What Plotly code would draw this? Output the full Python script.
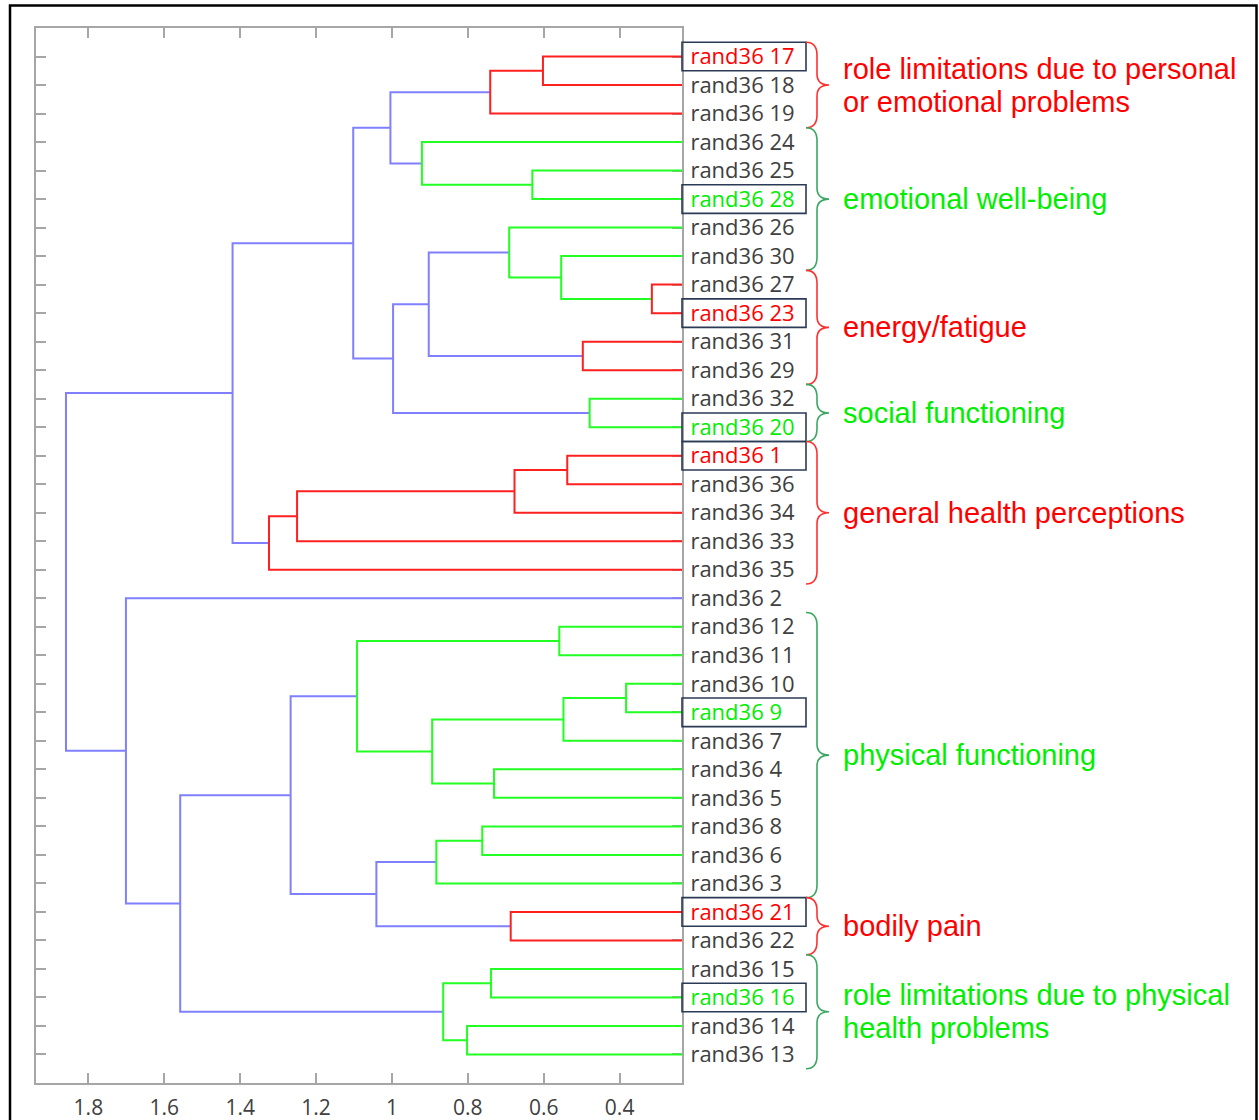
import plotly.graph_objects as go

# ---------------- data ----------------
leaf_labels = [
    "rand36 17", "rand36 18", "rand36 19", "rand36 24", "rand36 25", "rand36 28",
    "rand36 26", "rand36 30", "rand36 27", "rand36 23", "rand36 31", "rand36 29",
    "rand36 32", "rand36 20", "rand36 1", "rand36 36", "rand36 34", "rand36 33",
    "rand36 35", "rand36 2", "rand36 12", "rand36 11", "rand36 10", "rand36 9",
    "rand36 7", "rand36 4", "rand36 5", "rand36 8", "rand36 6", "rand36 3",
    "rand36 21", "rand36 22", "rand36 15", "rand36 16", "rand36 14", "rand36 13",
]
boxed_leaves = ["rand36 17", "rand36 28", "rand36 23", "rand36 20",
                "rand36 1", "rand36 9", "rand36 21", "rand36 16"]
boxed_colors = ["red", "green", "red", "green", "red", "green", "red", "green"]

# linkage: leaves are 0..35 (row order), new nodes numbered from 36
merge_a = [8, 22, 12, 10, 14, 37, 7, 20, 0, 4, 40, 30, 6, 25, 32, 44, 27, 34,
           50, 52, 41, 48, 3, 57, 51, 55, 43, 60, 46, 62, 64, 63, 65, 19, 67]
merge_b = [9, 23, 13, 11, 15, 24, 36, 21, 1, 5, 16, 31, 42, 26, 33, 2, 28, 35,
           53, 29, 49, 39, 45, 38, 58, 47, 56, 59, 17, 61, 18, 66, 54, 68, 69]
merge_height = [0.315, 0.383, 0.479, 0.497, 0.538, 0.548, 0.554, 0.559, 0.602,
                0.630, 0.677, 0.687, 0.691, 0.731, 0.739, 0.741, 0.762, 0.802,
                0.865, 0.883, 0.894, 0.903, 0.921, 0.997, 1.004, 1.041, 1.092,
                1.102, 1.250, 1.267, 1.324, 1.420, 1.558, 1.701, 1.859]
merge_color = ["red", "green", "green", "red", "red", "green", "green", "green",
               "red", "green", "red", "red", "green", "green", "green", "red",
               "green", "green", "green", "green", "green", "blue", "green",
               "blue", "blue", "blue", "green", "blue", "red", "blue", "red",
               "blue", "blue", "blue", "blue"]

group_names = [
    "role limitations due to personal\nor emotional problems",
    "emotional well-being",
    "energy/fatigue",
    "social functioning",
    "general health perceptions",
    "physical functioning",
    "bodily pain",
    "role limitations due to physical\nhealth problems",
]
group_first = [1, 4, 9, 13, 15, 21, 31, 33]
group_last = [3, 8, 12, 14, 19, 30, 32, 36]
group_color = ["red", "green", "red", "green", "red", "green", "red", "green"]

x_ticks = [1.8, 1.6, 1.4, 1.2, 1.0, 0.8, 0.6, 0.4]
x_tick_text = ["1.8", "1.6", "1.4", "1.2", "1", "0.8", "0.6", "0.4"]
x_range = [1.938, 0.2356]

# ---------------- styles ----------------
LINE_COL = {"red": "#ff2020", "green": "#22ff22", "blue": "#8080ff"}
LABEL_COL = {"red": "#ff0000", "green": "#00ee00"}
BRACE_COL = {"red": "#ff3030", "green": "#3aa862"}
GRAY_TEXT = "#404040"
AXIS_COL = "#a6a6a6"

W, H = 1259, 1120
ML, MR, MT, MB = 36, 577, 28, 37
PW, PH = W - ML - MR, H - MT - MB
N = len(leaf_labels)
Y_MAX = N + 1

def yp(v):          # leaf-unit y -> paper
    return 1 - v / Y_MAX

def xr(dpx):        # pixel offset right of the plot edge -> paper
    return 1 + dpx / PW

def dyp(dpx):
    return dpx / PH

# ---------------- dendrogram geometry ----------------
node_x = [0.0] * N
node_y = [i + 1.0 for i in range(N)]
segs = {"blue": ([], []), "green": ([], []), "red": ([], [])}
for a, b, h, c in zip(merge_a, merge_b, merge_height, merge_color):
    xs, ys = segs[c]
    xs += [node_x[a], h, h, node_x[b], None]
    ys += [node_y[a], node_y[a], node_y[b], node_y[b], None]
    node_x.append(h)
    node_y.append((node_y[a] + node_y[b]) / 2)

fig = go.Figure()
for c in ["blue", "green", "red"]:
    xs, ys = segs[c]
    fig.add_trace(go.Scatter(x=xs, y=ys, mode="lines",
                             line=dict(color=LINE_COL[c], width=2),
                             hoverinfo="skip", showlegend=False))

# ---------------- leaf tick labels ----------------
tick_text = []
for lab in leaf_labels:
    if lab in boxed_leaves:
        col = LABEL_COL[boxed_colors[boxed_leaves.index(lab)]]
        tick_text.append(f'<span style="color:{col}">{lab}</span>')
    else:
        tick_text.append(lab)

shapes = []
# boxes around representative leaves
for lab, col in zip(boxed_leaves, boxed_colors):
    r = leaf_labels.index(lab) + 1
    shapes.append(dict(type="rect", xref="paper", yref="paper",
                       x0=xr(0), x1=xr(124), y0=yp(r + 0.5), y1=yp(r - 0.5),
                       line=dict(color="#2b3a55", width=1.6),
                       fillcolor="rgba(0,0,0,0)"))

# braces and group labels
annotations = []
for name, f, l, col in zip(group_names, group_first, group_last, group_color):
    yt, yb = yp(f - 0.5), yp(l + 0.5)
    ym = (yt + yb) / 2
    xe, xs_, xt = xr(124), xr(135), xr(147)
    r1, r2 = dyp(13), dyp(11)
    path = (f"M {xe},{yt} Q {xs_},{yt} {xs_},{yt - r1} "
            f"L {xs_},{ym + r2} Q {xs_},{ym} {xt},{ym} "
            f"Q {xs_},{ym} {xs_},{ym - r2} "
            f"L {xs_},{yb + r1} Q {xs_},{yb} {xe},{yb}")
    shapes.append(dict(type="path", xref="paper", yref="paper", path=path,
                       line=dict(color=BRACE_COL[col], width=1.6)))
    lines = name.split("\n")
    n = len(lines)
    for i, ln in enumerate(lines):
        off = (i - (n - 1) / 2) * 33
        annotations.append(dict(
            x=xr(159), y=ym - dyp(off), xref="paper", yref="paper",
            text=ln, showarrow=False, xanchor="left", yanchor="middle",
            font=dict(family="Liberation Sans, Arial, sans-serif", size=29,
                      color=LABEL_COL[col])))

# outer black frame
shapes.append(dict(type="rect", xref="paper", yref="paper",
                   x0=(10 - ML) / PW, x1=(1256.5 - ML) / PW,
                   y0=1 - (1135 - MT) / PH, y1=1 - (5.5 - MT) / PH,
                   line=dict(color="#000000", width=2.5),
                   fillcolor="rgba(0,0,0,0)"))

fig.update_layout(
    width=W, height=H,
    margin=dict(l=ML, r=MR, t=MT, b=MB, pad=0, autoexpand=False),
    paper_bgcolor="white", plot_bgcolor="white",
    showlegend=False,
    shapes=shapes, annotations=annotations,
    xaxis=dict(range=x_range, tickvals=x_ticks, ticktext=x_tick_text,
               ticks="inside", ticklen=10, tickwidth=1.5, tickcolor=AXIS_COL,
               showline=True, linecolor=AXIS_COL, linewidth=2, mirror="ticks",
               showgrid=False, zeroline=False, ticklabelstandoff=5,
               automargin=False,
               tickfont=dict(family="Open Sans", size=21, color=GRAY_TEXT)),
    yaxis=dict(range=[Y_MAX, 0], tickvals=list(range(1, N + 1)),
               ticktext=tick_text, side="right",
               ticks="inside", ticklen=10, tickwidth=1.5, tickcolor=AXIS_COL,
               showline=True, linecolor=AXIS_COL, linewidth=2, mirror="ticks",
               showgrid=False, zeroline=False, ticklabelstandoff=2,
               automargin=False, layer="below traces",
               tickfont=dict(family="Open Sans", size=22, color=GRAY_TEXT)),
)

fig.write_html("out.html")
